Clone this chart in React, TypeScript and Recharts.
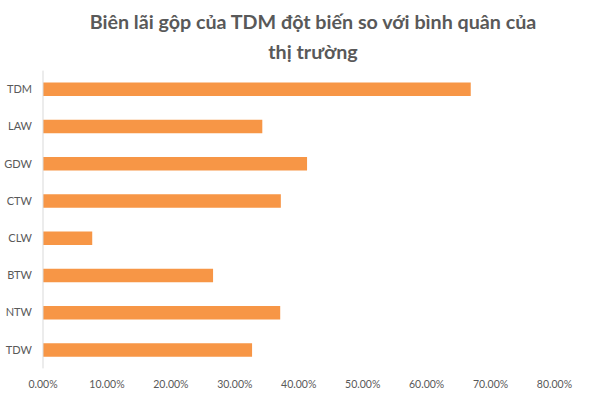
import React from 'react'
import { BarChart, Bar, XAxis, YAxis } from 'recharts'

const categories = ['TDM', 'LAW', 'GDW', 'CTW', 'CLW', 'BTW', 'NTW', 'TDW']
const grossMargin = [66.9, 34.3, 41.3, 37.2, 7.7, 26.6, 37.1, 32.7]
const xTicks = [0, 10, 20, 30, 40, 50, 60, 70, 80]

const titleLines = ['Biên lãi gộp của TDM đột biến so với bình quân của', 'thị trường']

const data = categories.map((name, i) => ({ name, value: grossMargin[i] }))

const labelFont = 'Lato, "Open Sans", sans-serif'

export default function App() {
  return (
    <div
      style={{
        position: 'fixed',
        top: 0,
        left: 0,
        width: 612,
        height: 397,
        background: '#fff',
        fontFamily: labelFont,
      }}
    >
      <div
        style={{
          position: 'absolute',
          top: 7,
          left: 13,
          width: 600,
          textAlign: 'center',
          fontSize: 19.7,
          lineHeight: '30px',
          fontWeight: 700,
          color: '#595959',
        }}
      >
        {titleLines.map((line) => (
          <div key={line}>{line}</div>
        ))}
      </div>
      <BarChart
        width={612}
        height={397}
        data={data}
        layout="vertical"
        margin={{ top: 70.6, right: 57.5, bottom: 0, left: 0 }}
        style={{ position: 'absolute', top: 0, left: 0 }}
      >
        <XAxis
          type="number"
          domain={[0, 80]}
          ticks={xTicks}
          interval={0}
          axisLine={false}
          tickLine={false}
          tickMargin={6}
          height={28.6}
          tick={{ fill: '#595959', fontSize: 10.5, fontFamily: labelFont }}
          tickFormatter={(v: number) => `${v.toFixed(2)}%`}
        />
        <YAxis
          type="category"
          dataKey="name"
          width={43}
          axisLine={{ stroke: '#d9d9d9' }}
          tickLine={false}
          tickMargin={5}
          tick={{ fill: '#595959', fontSize: 11, fontFamily: labelFont }}
        />
        <Bar dataKey="value" fill="#F79646" barSize={13.5} isAnimationActive={false} />
      </BarChart>
    </div>
  )
}
